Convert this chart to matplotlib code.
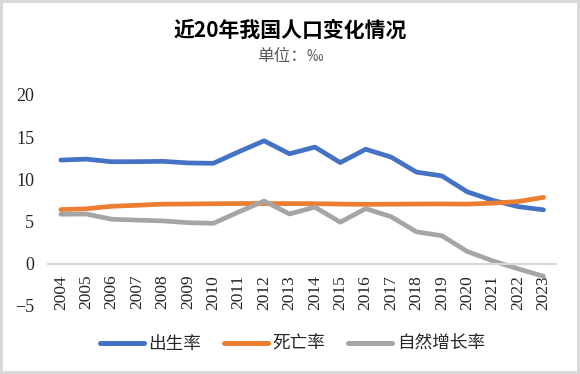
import matplotlib
matplotlib.use("Agg")
import matplotlib.pyplot as plt
import numpy as np

years = [str(y) for y in range(2004, 2024)]
birth = [12.29, 12.40, 12.09, 12.10, 12.14, 11.95, 11.90, 13.27, 14.57, 13.03,
         13.83, 11.99, 13.57, 12.64, 10.86, 10.41, 8.52, 7.52, 6.77, 6.39]
death = [6.42, 6.51, 6.81, 6.93, 7.06, 7.08, 7.11, 7.14, 7.13, 7.13,
         7.12, 7.07, 7.04, 7.06, 7.08, 7.09, 7.07, 7.18, 7.37, 7.87]
growth = [5.87, 5.89, 5.28, 5.17, 5.08, 4.87, 4.79, 6.13, 7.43, 5.90,
          6.71, 4.93, 6.53, 5.58, 3.78, 3.32, 1.45, 0.34, -0.60, -1.48]
series_names = ["出生率", "死亡率", "自然增长率"]
colors = ["#4472C4", "#ED7D31", "#A5A5A5"]
yticks = [-5, 0, 5, 10, 15, 20]

cjk = ["Noto Sans CJK SC", "DejaVu Sans"]
plt.rcParams["font.family"] = ["Liberation Serif", "Noto Sans CJK SC", "DejaVu Serif"]

fig = plt.figure(figsize=(5.8, 3.74), dpi=100)
fig.patch.set_edgecolor("#D9D9D9")
fig.patch.set_linewidth(3)
ax = fig.add_axes([0.083, 0.182, 0.876, 0.564])

x = np.arange(len(years))
for vals, name, c in zip([birth, death, growth], series_names, colors):
    ax.plot(x, vals, color=c, lw=3.4, label=name, solid_capstyle="round",
            solid_joinstyle="round")

ax.set_xlim(-0.5, len(years) - 0.5)
ax.set_ylim(-5, 20)
ax.tick_params(axis="both", length=0, colors="#262626")
ax.tick_params(axis="y", pad=10, labelsize=13)
ax.tick_params(axis="x", pad=8, labelrotation=90, labelsize=12.5)
ax.set_yticks(yticks)
ax.set_yticklabels([str(v).replace("-", "\u2212") for v in yticks])
ax.set_xticks(x)
ax.set_xticklabels(years)

for s in ["top", "right", "left"]:
    ax.spines[s].set_visible(False)
ax.spines["bottom"].set_position(("data", 0))
ax.spines["bottom"].set_color("#D9D9D9")
ax.spines["bottom"].set_linewidth(1.5)

fig.text(0.5, 0.92, "近20年我国人口变化情况", ha="center", va="center",
         family=cjk, fontsize=15, weight="bold", color="#000000")
fig.text(0.5, 0.85, "单位：‰", ha="center", va="center",
         family=cjk, fontsize=12, color="#595959")

leg = fig.legend(loc="center", bbox_to_anchor=(0.504, 0.08), ncol=3, frameon=False,
                 prop={"family": cjk, "size": 12.7}, handlelength=2.5,
                 columnspacing=1.3, handletextpad=0.25)
for t in leg.get_texts():
    t.set_color("#262626")
for h in leg.get_lines():
    h.set_linewidth(3.6)

fig.savefig("out.png", dpi=100)
